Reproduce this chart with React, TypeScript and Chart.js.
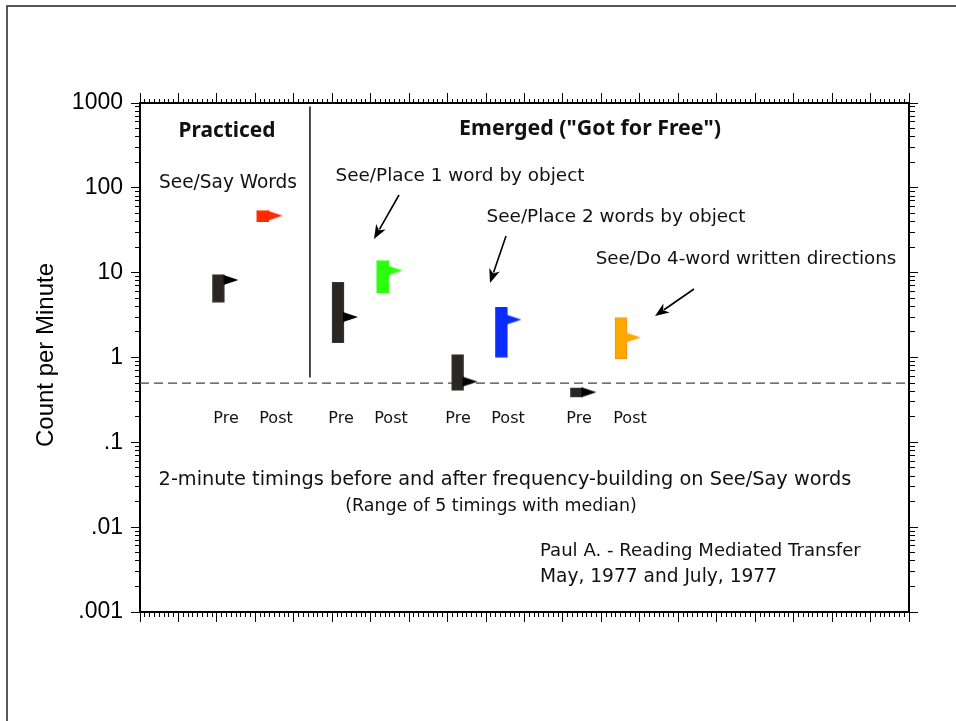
import React, { useEffect, useRef } from 'react';
import { Chart, registerables } from 'chart.js';

Chart.register(...registerables);

// ---- data ----
const categories = ['Pre', 'Post', 'Pre', 'Post', 'Pre', 'Post', 'Pre', 'Post'];
const groupLabels = [
  'See/Say Words',
  'See/Place 1 word by object',
  'See/Place 2 words by object',
  'See/Do 4-word written directions',
];
const xPositions = [2.04, 3.19, 5.15, 6.31, 8.26, 9.4, 11.35, 12.51];
const lowValues = [4.45, 40, 1.5, 5.8, 0.41, 1.0, 0.34, 0.97];
const highValues = [9.5, 54, 7.7, 13.9, 1.08, 3.9, 0.44, 2.96];
const medianValues = [8.2, 47, 3.0, 10.6, 0.52, 2.8, 0.39, 1.72];
const barColors = ['#2b2621', '#ff2a00', '#2b2621', '#2cff0c', '#2b2621', '#0a2cff', '#2b2621', '#ffa800'];
const barBorders = ['#3d3832', '#ff2a00', '#3d3832', '#2cff0c', '#3d3832', '#0a2cff', '#3d3832', '#ff8c1a'];
const flagColors = ['#000000', '#ff2a00', '#000000', '#2cff0c', '#000000', '#0a2cff', '#000000', '#ffa800'];
const yTickValues = [0.001, 0.01, 0.1, 1, 10, 100, 1000];
const yTickLabels = ['.001', '.01', '.1', '1', '10', '100', '1000'];
const aimValue = 0.5;
const xMin = 0;
const xMax = 20;
const xMinorStep = 0.125;
const separatorX = 4.42;
const separatorLow = 0.58;
const separatorHigh = 912;

const isDecade = (v: number) => {
  const l = Math.log10(v);
  return Math.abs(l - Math.round(l)) < 1e-9;
};

const yAllTicks: number[] = [];
for (let e = -3; e <= 2; e++) {
  for (let k = 1; k <= 9; k++) yAllTicks.push(Number((k * Math.pow(10, e)).toPrecision(6)));
}
yAllTicks.push(1000);

const xAllTicks: number[] = [];
for (let v = xMin; v <= xMax + 1e-9; v += xMinorStep) xAllTicks.push(v);

function fitText(
  ctx: CanvasRenderingContext2D,
  text: string,
  x: number,
  y: number,
  width: number,
  weight: string,
  family: string,
  align: CanvasTextAlign
) {
  ctx.font = `${weight} 100px "${family}"`;
  const w = ctx.measureText(text).width;
  const size = (100 * width) / w;
  ctx.font = `${weight} ${size.toFixed(2)}px "${family}"`;
  ctx.textAlign = align;
  ctx.textBaseline = 'middle';
  ctx.fillText(text, x, y);
}

function arrow(ctx: CanvasRenderingContext2D, x1: number, y1: number, x2: number, y2: number) {
  const ang = Math.atan2(y2 - y1, x2 - x1);
  const hl = 14;
  const hw = 5.5;
  const bx = x2 - hl * Math.cos(ang);
  const by = y2 - hl * Math.sin(ang);
  ctx.beginPath();
  ctx.moveTo(x1, y1);
  ctx.lineTo(bx + 3 * Math.cos(ang), by + 3 * Math.sin(ang));
  ctx.lineWidth = 1.6;
  ctx.strokeStyle = '#000';
  ctx.stroke();
  ctx.beginPath();
  ctx.moveTo(x2, y2);
  ctx.lineTo(bx + hw * Math.sin(ang), by - hw * Math.cos(ang));
  ctx.lineTo(bx + 4 * Math.cos(ang), by + 4 * Math.sin(ang));
  ctx.lineTo(bx - hw * Math.sin(ang), by + hw * Math.cos(ang));
  ctx.closePath();
  ctx.fillStyle = '#000';
  ctx.fill();
}

const categoryLabelX = [226, 276, 341, 391, 458, 508, 579, 630];

const decorPlugin = {
  id: 'decor',
  beforeDraw(chart: any) {
    const ctx = chart.ctx as CanvasRenderingContext2D;
    ctx.save();
    ctx.fillStyle = '#fff';
    ctx.fillRect(0, 0, chart.width, chart.height);
    ctx.strokeStyle = '#222';
    ctx.lineWidth = 1.5;
    ctx.beginPath();
    ctx.moveTo(7, chart.height);
    ctx.lineTo(7, 6);
    ctx.lineTo(chart.width, 6);
    ctx.stroke();
    ctx.restore();
  },
  afterDraw(chart: any) {
    const ctx = chart.ctx as CanvasRenderingContext2D;
    const ys = chart.scales.y;
    const fam = 'DejaVu Sans';
    ctx.save();
    ctx.fillStyle = '#111';
    fitText(ctx, 'Practiced', 227, 131, 97, 'bold', 'Noto Sans', 'center');
    fitText(ctx, 'Emerged ("Got for Free")', 590, 129, 262, 'bold', 'Noto Sans', 'center');
    fitText(ctx, groupLabels[0], 228, 183, 138, 'normal', fam, 'center');
    fitText(ctx, groupLabels[1], 460, 176, 249, 'normal', fam, 'center');
    fitText(ctx, groupLabels[2], 616, 217, 259, 'normal', fam, 'center');
    fitText(ctx, groupLabels[3], 746, 259, 301, 'normal', fam, 'center');

    ctx.font = `16px "${fam}"`;
    ctx.textAlign = 'center';
    ctx.textBaseline = 'middle';
    const labelY = ys.getPixelForValue(0.19);
    categories.forEach((c, i) => {
      ctx.fillText(c, categoryLabelX[i], labelY);
    });

    fitText(ctx, '2-minute timings before and after frequency-building on See/Say words', 505, 480, 693, 'normal', fam, 'center');
    fitText(ctx, '(Range of 5 timings with median)', 491, 506, 292, 'normal', fam, 'center');
    fitText(ctx, 'Paul A. - Reading Mediated Transfer', 540, 551, 321, 'normal', fam, 'left');
    fitText(ctx, 'May, 1977 and July, 1977', 540, 577, 237, 'normal', fam, 'left');

    arrow(ctx, 399, 195, 374, 239);
    arrow(ctx, 506, 236, 490, 283);
    arrow(ctx, 694, 289, 655, 316);

    // y axis title
    ctx.save();
    ctx.translate(46, 355);
    ctx.rotate(-Math.PI / 2);
    ctx.fillStyle = '#000';
    ctx.font = '24px "Liberation Sans"';
    ctx.textAlign = 'center';
    ctx.textBaseline = 'middle';
    ctx.fillText('Count per Minute', 0, 0);
    ctx.restore();

    ctx.restore();
  },
};

function makeFlag(color: string): HTMLCanvasElement {
  const c = document.createElement('canvas');
  c.width = 40;
  c.height = 12;
  const g = c.getContext('2d')!;
  g.fillStyle = color;
  g.beginPath();
  g.moveTo(25, 1);
  g.lineTo(40, 6);
  g.lineTo(25, 11);
  g.closePath();
  g.fill();
  return c;
}

export default function App() {
  const ref = useRef<HTMLCanvasElement>(null);
  useEffect(() => {
    const canvas = ref.current;
    if (!canvas) return;
    const flags = flagColors.map(makeFlag);

    const yTickCallback = (v: any) => {
      const i = yTickValues.findIndex((t) => Math.abs(Math.log10(t) - Math.log10(Number(v))) < 1e-6);
      return i >= 0 ? yTickLabels[i] : '';
    };

    const chart = new Chart(canvas, {
      type: 'bar',
      data: {
        datasets: [
          {
            type: 'bar',
            label: 'Range',
            data: xPositions.map((x, i) => ({ x, y: [lowValues[i], highValues[i]] })) as any,
            backgroundColor: barColors,
            borderColor: barBorders,
            borderWidth: 1,
            borderSkipped: false,
            barThickness: 12,
            order: 1,
            xAxisID: 'x',
            yAxisID: 'y',
          } as any,
          {
            type: 'scatter',
            label: 'Median',
            data: xPositions.map((x, i) => ({ x, y: medianValues[i] })),
            pointStyle: (c: any) => flags[c.dataIndex] as any,
            pointRadius: 3,
            order: 0,
            xAxisID: 'x',
            yAxisID: 'y',
          } as any,
          {
            type: 'line',
            label: 'Aim',
            data: [
              { x: xMin, y: aimValue },
              { x: xMax, y: aimValue },
            ],
            borderColor: '#444',
            borderWidth: 1.3,
            borderDash: [9, 5],
            pointRadius: 0,
            order: 2,
            xAxisID: 'x',
            yAxisID: 'y',
          } as any,
          {
            type: 'line',
            label: 'Separator',
            data: [
              { x: separatorX, y: separatorHigh },
              { x: separatorX, y: separatorLow },
            ],
            borderColor: '#111',
            borderWidth: 1.5,
            pointRadius: 0,
            order: 2,
            xAxisID: 'x',
            yAxisID: 'y',
          } as any,
        ],
      },
      options: {
        responsive: false,
        animation: false,
        devicePixelRatio: 1,
        layout: { padding: { left: 20, right: 0, top: 0, bottom: 0 } },
        plugins: {
          legend: { display: false },
          tooltip: { enabled: false },
          title: { display: false },
        },
        events: [],
        scales: {
          x: {
            type: 'linear',
            position: 'bottom',
            min: xMin,
            max: xMax,
            offset: false,
            afterBuildTicks: (s: any) => {
              s.ticks = xAllTicks.map((v) => ({ value: v }));
            },
            afterFit: (s: any) => {
              s.height = 109;
            },
            ticks: { display: false, autoSkip: false },
            grid: {
              offset: false,
              drawOnChartArea: false,
              tickLength: 10,
              tickWidth: 1,
              tickColor: '#000',
              tickBorderDash: (c: any) => (Number.isInteger(c.tick?.value) ? [] : [4, 100]),
            },
            border: { color: '#000', width: 2 },
          } as any,
          x2: {
            type: 'linear',
            axis: 'x',
            position: 'top',
            min: xMin,
            max: xMax,
            offset: false,
            afterBuildTicks: (s: any) => {
              s.ticks = xAllTicks.map((v) => ({ value: v }));
            },
            afterFit: (s: any) => {
              s.height = 103;
            },
            ticks: { display: false, autoSkip: false },
            grid: {
              offset: false,
              drawOnChartArea: false,
              tickLength: 10,
              tickWidth: 1,
              tickColor: '#000',
              tickBorderDash: (c: any) => (Number.isInteger(c.tick?.value) ? [] : [0, 6, 4, 100]),
            },
            border: { color: '#000', width: 2 },
          } as any,
          y: {
            type: 'logarithmic',
            position: 'left',
            min: 0.001,
            max: 1000,
            afterBuildTicks: (s: any) => {
              s.ticks = yAllTicks.map((v) => ({ value: v }));
            },
            afterFit: (s: any) => {
              s.width = 120;
            },
            ticks: {
              autoSkip: false,
              padding: 8,
              color: '#000',
              font: { family: 'Liberation Sans', size: 23 },
              callback: yTickCallback,
            },
            grid: {
              drawOnChartArea: false,
              tickLength: 9,
              tickWidth: 1,
              tickColor: '#000',
              tickBorderDash: (c: any) => (c.tick && isDecade(c.tick.value) ? [] : [0, 4, 5, 100]),
            },
            border: { color: '#000', width: 2 },
          } as any,
          y2: {
            type: 'logarithmic',
            axis: 'y',
            position: 'right',
            min: 0.001,
            max: 1000,
            afterBuildTicks: (s: any) => {
              s.ticks = yAllTicks.map((v) => ({ value: v }));
            },
            afterFit: (s: any) => {
              s.width = 47;
            },
            ticks: { display: false, autoSkip: false },
            grid: {
              drawOnChartArea: false,
              tickLength: 9,
              tickWidth: 1,
              tickColor: '#000',
              tickBorderDash: (c: any) => (c.tick && isDecade(c.tick.value) ? [] : [5, 100]),
            },
            border: { color: '#000', width: 2 },
          } as any,
        },
      } as any,
      plugins: [decorPlugin as any],
    });
    return () => chart.destroy();
  }, []);

  return (
    <div style={{ position: 'fixed', left: 0, top: 0, width: 956, height: 721, background: '#fff' }}>
      <canvas ref={ref} width={956} height={721} style={{ display: 'block', width: 956, height: 721 }} />
    </div>
  );
}
